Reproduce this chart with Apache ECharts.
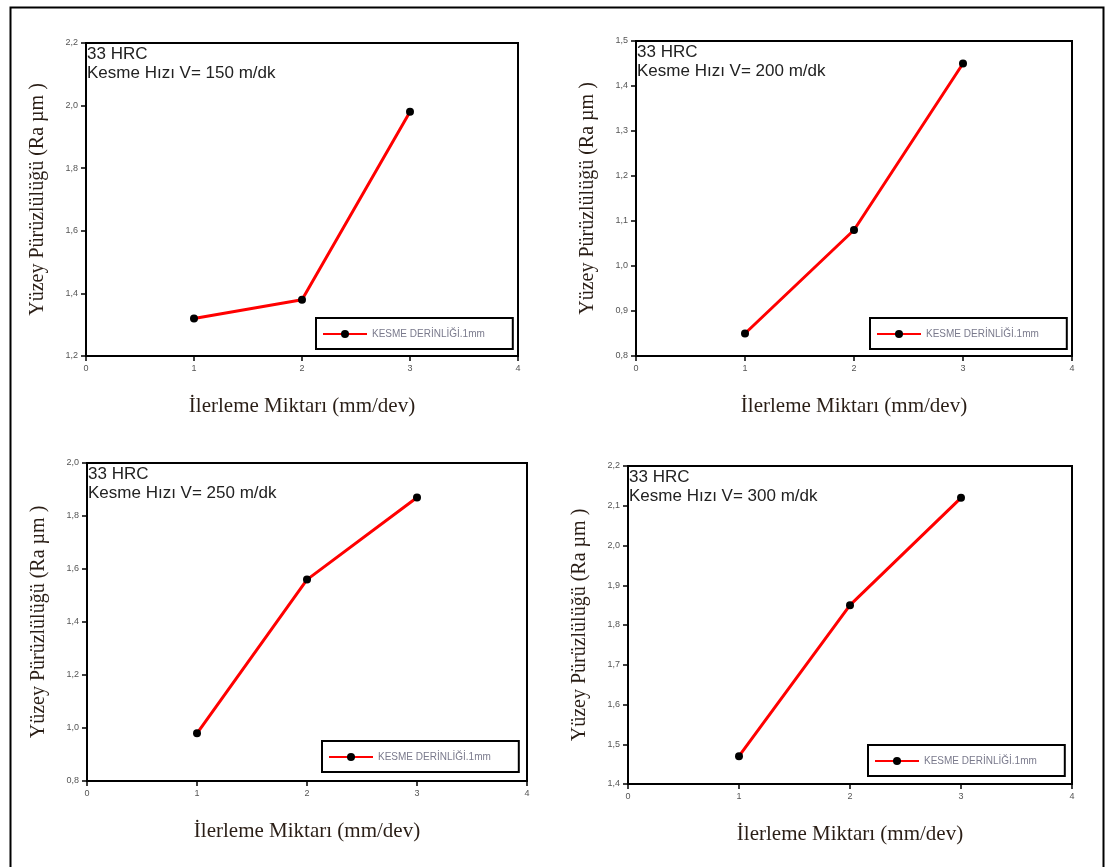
<!DOCTYPE html>
<html>
<head>
<meta charset="utf-8">
<script src="https://cdn.jsdelivr.net/npm/echarts@6/dist/echarts.min.js"></script>
<style>
  html, body { margin: 0; padding: 0; background: #fff; }
  #chart { width: 1107px; height: 867px; }
</style>
</head>
<body>
<div id="chart"></div>
<script>
// ilerleme miktari (x) ve yuzey puruzlulugu (Ra) degerleri
var feed = [1, 2, 3];
var ra150 = [1.32, 1.38, 1.98];
var ra200 = [0.85, 1.08, 1.45];
var ra250 = [0.98, 1.56, 1.87];
var ra300 = [1.47, 1.85, 2.12];
var speeds = ['150', '200', '250', '300'];
var yMins = [1.2, 0.8, 0.8, 1.4];
var yMaxs = [2.2, 1.5, 2.0, 2.2];
var yStep = [0.2, 0.1, 0.2, 0.1];
var seriesName = 'KESME DERİNLİĞİ.1mm';

var allRa = [ra150, ra200, ra250, ra300];

// panel yerleri
var boxes = [
    { left: 86, top: 43, width: 432, height: 313 },
    { left: 636, top: 41, width: 436, height: 315 },
    { left: 87, top: 463, width: 440, height: 318 },
    { left: 628, top: 466, width: 444, height: 318 }
];
var legendPos = [
    { left: 316, top: 318 },
    { left: 870, top: 318 },
    { left: 322, top: 741 },
    { left: 868, top: 745 }
];

var grids = [], xAxes = [], yAxes = [], series = [], legends = [], titles = [];
for (var i = 0; i < 4; i++) {
    var b = boxes[i];
    grids.push({
        left: b.left, top: b.top, width: b.width, height: b.height,
        show: true, borderColor: '#000', borderWidth: 2, backgroundColor: '#fff'
    });
    xAxes.push({
        gridIndex: i, type: 'value', min: 0, max: 4, interval: 1,
        name: 'İlerleme Miktarı (mm/dev)', nameLocation: 'middle', nameGap: 40,
        nameTextStyle: { fontFamily: 'Liberation Serif', fontSize: 21, color: '#2a1e16' },
        axisLine: { lineStyle: { color: '#000', width: 2 } },
        axisTick: { show: true, length: 5, lineStyle: { color: '#000', width: 1.5 } },
        axisLabel: { fontSize: 9, color: '#555', fontFamily: 'Liberation Sans', margin: 8 },
        splitLine: { show: false }
    });
    yAxes.push({
        gridIndex: i, type: 'value', min: yMins[i], max: yMaxs[i], interval: yStep[i],
        name: 'Yüzey Pürüzlülüğü (Ra µm )', nameLocation: 'middle', nameGap: 38,
        nameTextStyle: { fontFamily: 'Liberation Serif', fontSize: 20, color: '#2a1e16' },
        axisLine: { lineStyle: { color: '#000', width: 2 } },
        axisTick: { show: true, length: 5, lineStyle: { color: '#000', width: 1.5 } },
        axisLabel: {
            fontSize: 9, color: '#555', fontFamily: 'Liberation Sans', margin: 8,
            formatter: function (v) { return v.toFixed(1).replace('.', ','); }
        },
        splitLine: { show: false }
    });
    var pts = [];
    for (var k = 0; k < feed.length; k++) pts.push([feed[k], allRa[i][k]]);
    series.push({
        name: seriesName, type: 'line', xAxisIndex: i, yAxisIndex: i,
        data: pts, symbol: 'circle', symbolSize: 8,
        itemStyle: { color: '#000' },
        lineStyle: { color: '#ff0000', width: 3 },
        animation: false
    });
    legends.push({
        left: legendPos[i].left, top: legendPos[i].top,
        data: [seriesName], orient: 'horizontal',
        backgroundColor: '#fff', borderColor: '#000', borderWidth: 2, borderRadius: 0,
        padding: [11, 28, 10, 6], itemWidth: 44, itemHeight: 10, itemGap: 4,
        selectedMode: false,
        textStyle: { fontSize: 10, color: '#7a7a8c', fontFamily: 'Liberation Sans' }
    });
    titles.push({
        text: '33 HRC\nKesme Hızı V= ' + speeds[i] + ' m/dk',
        left: b.left + 1, top: b.top + 2, padding: 0,
        textStyle: { fontSize: 17, fontWeight: 'normal', color: '#222', fontFamily: 'Liberation Sans', lineHeight: 19 }
    });
}

var myChart = echarts.init(document.getElementById('chart'));
var option = {
    backgroundColor: '#fff',
    animation: false,
    title: titles,
    legend: legends,
    grid: grids,
    xAxis: xAxes,
    yAxis: yAxes,
    series: series,
    graphic: [{
        type: 'rect', left: 8, top: 5,
        shape: { width: 1093, height: 880 },
        style: { fill: 'none', stroke: '#000', lineWidth: 2 },
        silent: true, z: -1
    }]
};
myChart.setOption(option);
</script>
</body>
</html>
